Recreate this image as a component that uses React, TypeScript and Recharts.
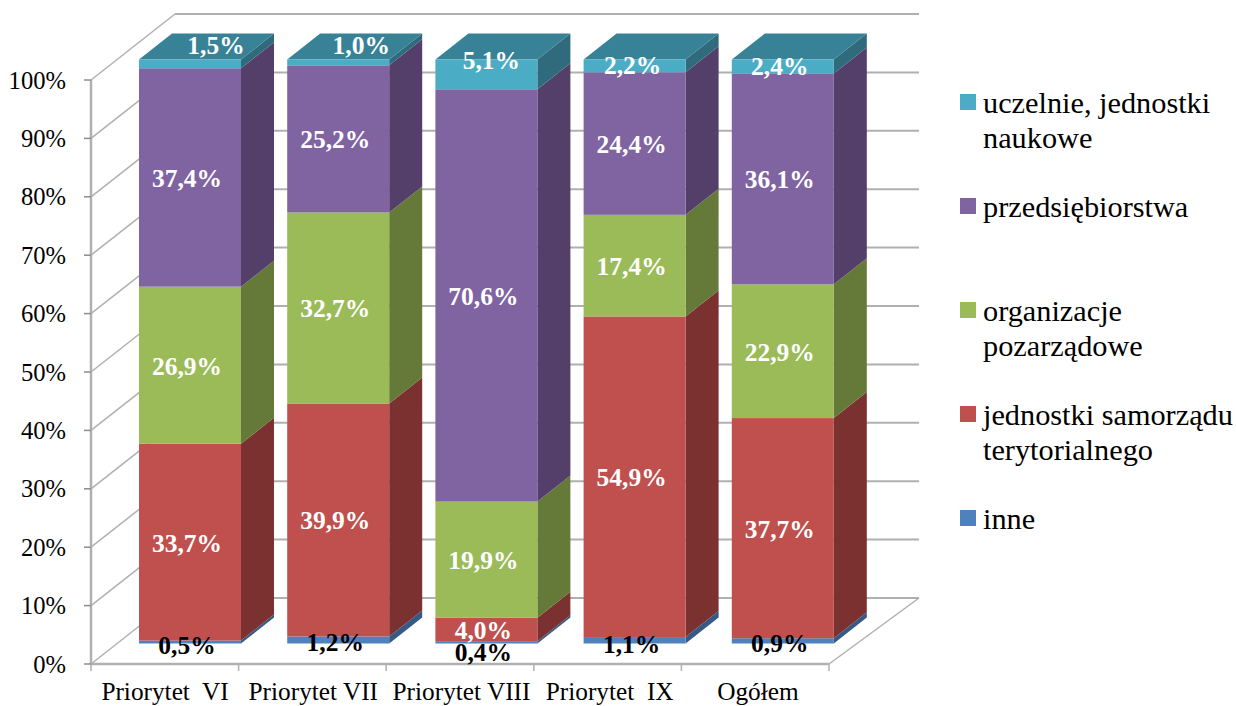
import React from 'react';
import { BarChart, Bar, XAxis, YAxis, CartesianGrid, LabelList, Legend } from 'recharts';

const categories = ['Priorytet  VI', 'Priorytet VII', 'Priorytet VIII', 'Priorytet  IX', 'Ogółem'];
const inne = [0.5, 1.2, 0.4, 1.1, 0.9];
const jst = [33.7, 39.9, 4.0, 54.9, 37.7];
const organizacje = [26.9, 32.7, 19.9, 17.4, 22.9];
const przedsiebiorstwa = [37.4, 25.2, 70.6, 24.4, 36.1];
const uczelnie = [1.5, 1.0, 5.1, 2.2, 2.4];
const yTicks = [0, 0.1, 0.2, 0.3, 0.4, 0.5, 0.6, 0.7, 0.8, 0.9, 1];

const data = categories.map((name, i) => ({
  name,
  inne: inne[i],
  jst: jst[i],
  organizacje: organizacje[i],
  przedsiebiorstwa: przedsiebiorstwa[i],
  uczelnie: uczelnie[i],
}));

const FONT = '"Liberation Serif", "Times New Roman", serif';

// bars sit this far in from the front plane of the floor
const PLANE_DX = 25;
const PLANE_DY = 20.5;
const WALL_DX = 84;
const WALL_DY = 66;
const AXIS_X = 91;
const FLOOR_RIGHT = 829;
const WALL_RIGHT = 919;
const BOX_DX = 33;
const BOX_DY = 26;
const GREY = '#b0b0b0';

// hand nudges for labels that sit off centre in the original
const topNudge = [[26, -18], [23, -17], [5, -14], [-2, 0], [-3, 0]];
const bottomNudge = [[-3, 3], [-3, 3], [-3, 10], [-3, 4], [-3, 3]];

const Box = ({ x, y, width, height, fill, side, top }: any) => {
  const r = x + width;
  const b = y + height;
  return (
    <g>
      <polygon points={`${r},${y} ${r + BOX_DX},${y - BOX_DY} ${r + BOX_DX},${b - BOX_DY} ${r},${b}`} fill={side} />
      {top && (
        <polygon points={`${x},${y} ${x + BOX_DX},${y - BOX_DY} ${r + BOX_DX},${y - BOX_DY} ${r},${y}`} fill={top} />
      )}
      <rect x={x} y={y} width={width} height={height} fill={fill} />
    </g>
  );
};

// grid lines go behind the bars, the axis ticks would land on top of them
const WallLine = ({ y1, index }: any) => {
  const fy = y1 + PLANE_DY;
  const by = fy - WALL_DY;
  const bx = AXIS_X + WALL_DX;
  // index 0 is whichever tick comes first, so test the floor by position
  const isFloor = Math.abs(y1 - 643) < 2;
  return (
    <g key={index}>
      {isFloor && (
        <>
          <line x1={FLOOR_RIGHT} y1={fy} x2={WALL_RIGHT} y2={by} stroke={GREY} strokeWidth={1.5} />
          <line x1={AXIS_X} y1={fy} x2={FLOOR_RIGHT} y2={fy} stroke={GREY} strokeWidth={2.5} />
          <line x1={AXIS_X} y1={fy} x2={AXIS_X} y2={fy - 584} stroke={GREY} strokeWidth={2.5} />
        </>
      )}
      <line x1={AXIS_X} y1={fy} x2={bx} y2={by} stroke={GREY} strokeWidth={1.5} />
      <line x1={bx} y1={by} x2={WALL_RIGHT} y2={by} stroke={GREY} strokeWidth={2} />
    </g>
  );
};

const YTick = ({ y, payload }: any) => {
  const fy = y + PLANE_DY;
  return (
    <g>
      <line x1={AXIS_X - 7} y1={fy} x2={AXIS_X} y2={fy} stroke="#8c8c8c" strokeWidth={1.5} />
      <text x={66} y={fy} textAnchor="end" dominantBaseline="central" fontFamily={FONT} fontSize={24.6} fill="#000">
        {`${Math.round(payload.value * 100)}%`}
      </text>
    </g>
  );
};

const XTick = ({ x, payload, index }: any) => {
  const fy = 664;
  const cx = x - PLANE_DX;
  const step = (FLOOR_RIGHT - AXIS_X) / categories.length;
  const tick = (px: number) => <line x1={px} y1={fy} x2={px} y2={fy + 7} stroke={GREY} strokeWidth={1.5} />;
  return (
    <g>
      {tick(AXIS_X + index * step)}
      {index === categories.length - 1 && tick(FLOOR_RIGHT)}
      <text x={cx} y={700} textAnchor="middle" fontFamily={FONT} fontSize={25.3} fill="#000" style={{ whiteSpace: 'pre' }}>
        {payload.value}
      </text>
    </g>
  );
};

const makeLabel = (values: number[], fill: string, nudge?: number[][]) => ({ x, y, width, height, index }: any) => {
  const [dx, dy] = nudge ? nudge[index] : [-3, 1];
  return (
    <text
      x={x + width / 2 + dx}
      y={y + height / 2 + dy}
      textAnchor="middle"
      dominantBaseline="central"
      fontFamily={FONT}
      fontSize={25.5}
      fontWeight="bold"
      fill={fill}
    >
      {`${values[index].toFixed(1).replace('.', ',')}%`}
    </text>
  );
};

const LegendBox = ({ payload }: any) => (
  <div style={{ fontFamily: FONT, fontSize: 30.3, lineHeight: '34.5px', color: '#000' }}>
    {[...payload].reverse().map((entry: any, i: number) => (
      <div key={entry.value} style={{ position: 'absolute', left: 0, top: i * 104, width: 278 }}>
        <span style={{ position: 'absolute', left: 2, top: 8, width: 16, height: 16, background: entry.color }} />
        <div style={{ marginLeft: 25 }}>{entry.value}</div>
      </div>
    ))}
  </div>
);

export default function App() {
  return (
    <div style={{ position: 'absolute', left: 0, top: 0, width: 1236, height: 706, background: '#fff' }}>
      <BarChart
        width={1236}
        height={706}
        data={data}
        stackOffset="expand"
        barSize={102}
        margin={{ top: 59.5, right: 379, bottom: 61.5, left: 115 }}
      >
        <CartesianGrid vertical={false} horizontal={(p: any) => <WallLine {...p} />} syncWithTicks />
        <XAxis dataKey="name" height={1} axisLine={false} tickLine={false} interval={0} tick={<XTick />} />
        <YAxis width={1} domain={[0, 1]} ticks={yTicks} axisLine={false} tickLine={false} tick={<YTick />} />
        <Legend
          layout="horizontal"
          align="center"
          verticalAlign="middle"
          content={<LegendBox />}
          wrapperStyle={{ position: 'absolute', left: 958, top: 86, width: 278 }}
        />
        <Bar dataKey="inne" name="inne" stackId="a" fill="#4f81bd" isAnimationActive={false}
          shape={(p: any) => <Box {...p} side="#355a85" />}>
          <LabelList content={makeLabel(inne, '#000', bottomNudge)} />
        </Bar>
        <Bar dataKey="jst" name="jednostki samorządu terytorialnego" stackId="a" fill="#c0504d" isAnimationActive={false}
          shape={(p: any) => <Box {...p} side="#7b3130" />}>
          <LabelList content={makeLabel(jst, '#fff')} />
        </Bar>
        <Bar dataKey="organizacje" name="organizacje pozarządowe" stackId="a" fill="#9bbb59" isAnimationActive={false}
          shape={(p: any) => <Box {...p} side="#657a39" />}>
          <LabelList content={makeLabel(organizacje, '#fff')} />
        </Bar>
        <Bar dataKey="przedsiebiorstwa" name="przedsiębiorstwa" stackId="a" fill="#8064a2" isAnimationActive={false}
          shape={(p: any) => <Box {...p} side="#543f6a" />}>
          <LabelList content={makeLabel(przedsiebiorstwa, '#fff')} />
        </Bar>
        <Bar dataKey="uczelnie" name="uczelnie, jednostki naukowe" stackId="a" fill="#4bacc6" isAnimationActive={false}
          shape={(p: any) => <Box {...p} side="#2f6b7c" top="#378297" />}>
          <LabelList content={makeLabel(uczelnie, '#fff', topNudge)} />
        </Bar>
      </BarChart>
    </div>
  );
}
